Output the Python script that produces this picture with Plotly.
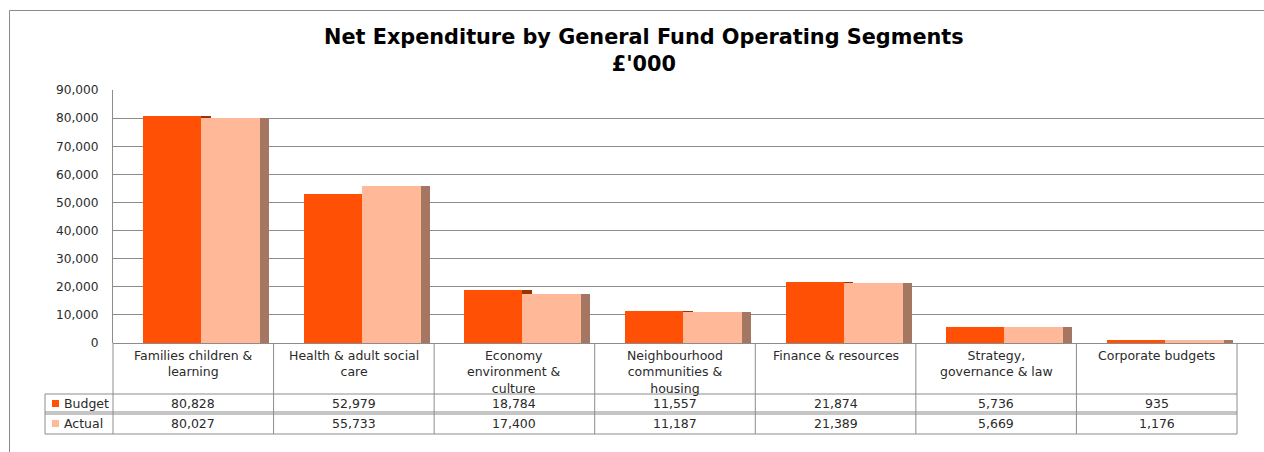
import plotly.graph_objects as go

# ---------------- data ----------------
categories = [
    "Families children &<br>learning",
    "Health & adult social<br>care",
    "Economy<br>environment &<br>culture",
    "Neighbourhood<br>communities &<br>housing",
    "Finance & resources",
    "Strategy,<br>governance & law",
    "Corporate budgets",
]
budget = [80828, 52979, 18784, 11557, 21874, 5736, 935]
actual = [80027, 55733, 17400, 11187, 21389, 5669, 1176]
series_names = ["Budget", "Actual"]
y_tickvals = [0, 10000, 20000, 30000, 40000, 50000, 60000, 70000, 80000, 90000]

title_text = "Net Expenditure by General Fund Operating Segments<br>£'000"

# ---------------- styles ----------------
C_BUDGET = "#FF5005"
C_BUDGET_SIDE = "#9A3205"
C_ACTUAL = "#FFB998"
C_ACTUAL_SIDE = "#A57763"
GRID = "#8c8c8c"
BORDER = "#8c8c8c"
TXT = "#2a2a2a"
FONT = "DejaVu Sans"

W, H = 1264, 452
ML, MR, MT, MB = 113, 0, 90, 109
PW = W - ML - MR
PH = H - MT - MB

n = len(categories)
x = list(range(n))
XMIN = -0.5
XMAX = (n - 0.5) + 27 / ((1237 - 113) / n)  # plot area extends past the table


def px_x(px):
    return (px - ML) / PW


def px_y(py):
    return (H - MB - py) / PH


def data_to_px(xv):
    return ML + (xv - XMIN) / (XMAX - XMIN) * PW


fig = go.Figure()

# side faces (3D depth) drawn first
fig.add_trace(go.Bar(x=x, y=budget, offset=0.05, width=0.06,
                     marker=dict(color=C_BUDGET_SIDE, line=dict(width=0)),
                     showlegend=False, hoverinfo="skip"))
fig.add_trace(go.Bar(x=x, y=actual, offset=0.415, width=0.058,
                     marker=dict(color=C_ACTUAL_SIDE, line=dict(width=0)),
                     showlegend=False, hoverinfo="skip"))
# front faces
fig.add_trace(go.Bar(x=x, y=budget, offset=-0.311, width=0.361, name=series_names[0],
                     marker=dict(color=C_BUDGET, line=dict(width=0)), showlegend=False))
fig.add_trace(go.Bar(x=x, y=actual, offset=0.05, width=0.367, name=series_names[1],
                     marker=dict(color=C_ACTUAL, line=dict(width=0)), showlegend=False))

shapes = []
annotations = []

# outer chart frame (left and top)
shapes.append(dict(type="line", xref="paper", yref="paper",
                   x0=px_x(9.5), x1=px_x(1300), y0=px_y(10.5), y1=px_y(10.5),
                   line=dict(color="#8a8a8a", width=1)))
shapes.append(dict(type="line", xref="paper", yref="paper",
                   x0=px_x(9.5), x1=px_x(9.5), y0=px_y(10.5), y1=px_y(470),
                   line=dict(color="#8a8a8a", width=1)))

# table geometry
row_top = 343
row_cat_bot = 394
row_bud_bot = 413
row_act_bot = 434
leg_left = 45
bounds = [data_to_px(i - 0.5) for i in range(n + 1)]
tbl_right = bounds[-1]

line_style = dict(color=BORDER, width=1)
for i, bx in enumerate(bounds):
    shapes.append(dict(type="line", xref="paper", yref="paper",
                       x0=px_x(bx), x1=px_x(bx), y0=px_y(row_top), y1=px_y(row_act_bot),
                       line=line_style))
shapes.append(dict(type="line", xref="paper", yref="paper",
                   x0=px_x(leg_left), x1=px_x(leg_left), y0=px_y(row_cat_bot), y1=px_y(row_act_bot),
                   line=line_style))
for yy in [row_cat_bot, row_bud_bot - 1, row_bud_bot + 1, row_act_bot]:
    shapes.append(dict(type="line", xref="paper", yref="paper",
                       x0=px_x(leg_left), x1=px_x(tbl_right), y0=px_y(yy), y1=px_y(yy),
                       line=line_style))

# category labels
for i, c in enumerate(categories):
    annotations.append(dict(x=i, xref="x", y=px_y(346), yref="paper", text=c,
                            showarrow=False, xanchor="center", yanchor="top",
                            font=dict(family=FONT, size=12.5, color=TXT)))
# values
for vals, yc in [(budget, 403.5), (actual, 423.5)]:
    for i, v in enumerate(vals):
        annotations.append(dict(x=i, xref="x", y=px_y(yc), yref="paper",
                                text=f"{v:,}", showarrow=False,
                                xanchor="center", yanchor="middle",
                                font=dict(family=FONT, size=12.5, color=TXT)))
# legend keys in table
for name, col, yc in [(series_names[0], C_BUDGET, 403.5), (series_names[1], C_ACTUAL, 423.5)]:
    shapes.append(dict(type="rect", xref="paper", yref="paper",
                       x0=px_x(52), x1=px_x(59), y0=px_y(yc - 3.5), y1=px_y(yc + 3.5),
                       fillcolor=col, line=dict(width=0)))
    annotations.append(dict(x=px_x(62), xref="paper", y=px_y(yc), yref="paper",
                            text=name, showarrow=False, xanchor="left", yanchor="middle",
                            font=dict(family=FONT, size=12.5, color=TXT)))

# title
annotations.append(dict(x=px_x(644), xref="paper", y=px_y(50), yref="paper",
                        text="<b>" + title_text.replace("<br>", "</b><br><b>") + "</b>",
                        showarrow=False, xanchor="center", yanchor="middle",
                        font=dict(family=FONT, size=20.8, color="#000000")))

fig.update_layout(
    width=W, height=H,
    margin=dict(l=ML, r=MR, t=MT, b=MB, pad=0),
    paper_bgcolor="white", plot_bgcolor="white",
    barmode="overlay", bargap=0,
    showlegend=False,
    shapes=shapes, annotations=annotations,
    xaxis=dict(range=[XMIN, XMAX], showticklabels=False, showgrid=False,
               zeroline=False, showline=False, ticks="", fixedrange=True),
    yaxis=dict(range=[0, 90000], tickvals=y_tickvals, tickformat=",",
               showgrid=True, gridcolor=GRID, gridwidth=1,
               zeroline=True, zerolinecolor=GRID, zerolinewidth=1,
               showline=True, linecolor=BORDER, linewidth=1,
               ticks="", ticklabelstandoff=11,
               tickfont=dict(family=FONT, size=12.2, color=TXT), fixedrange=True),
    font=dict(family=FONT),
)

fig.write_html(
    "out.html",
    config={"displayModeBar": False},
    post_script="document.body.style.margin='0';document.body.style.overflow='hidden';",
)
